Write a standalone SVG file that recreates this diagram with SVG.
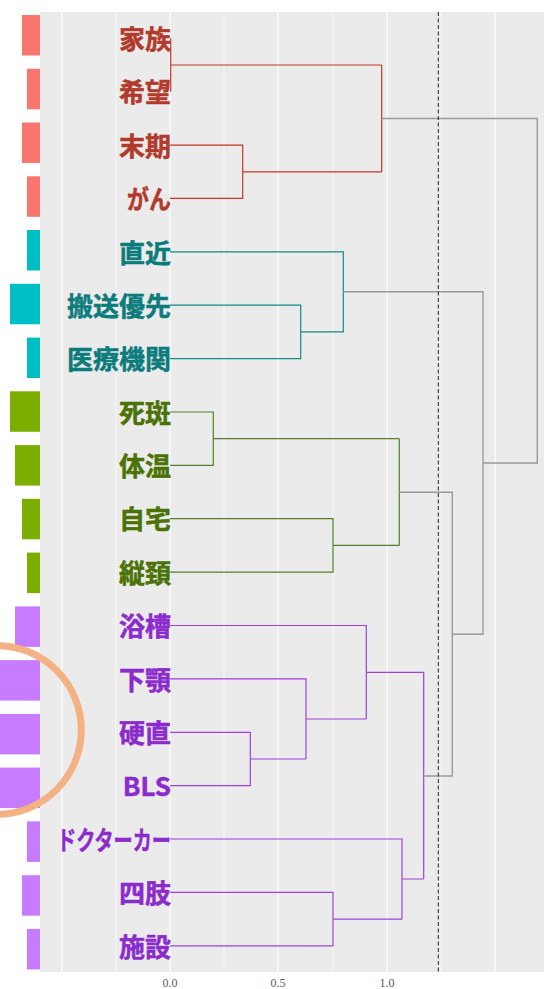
<svg xmlns="http://www.w3.org/2000/svg" width="544" height="989" viewBox="0 0 544 989">
<style>
.lab{font-family:"Noto Sans CJK JP","Noto Sans",sans-serif;font-weight:bold;font-size:26px;text-anchor:end;stroke-width:0.5}
.r{fill:#B23A2C;stroke:#B23A2C}.t{fill:#0B7B7C;stroke:#0B7B7C}.g{fill:#4A7204;stroke:#4A7204}.p{fill:#8B2BCB;stroke:#8B2BCB}
.ax{font-family:"Liberation Serif",serif;font-size:12px;fill:#5a5a5a;text-anchor:middle}
.gmaj{stroke:#fff;stroke-width:1.1}
.gmin{stroke:#fff;stroke-width:0.6}
.e{fill:none;stroke-width:1.2}
.er{stroke:#C0392B}.et{stroke:#138A8A}.eg{stroke:#52802A}.ep{stroke:#A040DD}.ey{stroke:#9a9a9a;stroke-width:1.4}
</style>
<rect width="544" height="989" fill="#fff"/>
<g id="panel">
<rect x="40" y="12" width="504" height="960" fill="#EBEBEB"/>
<line class="gmin" x1="116" y1="12" x2="116" y2="972"/>
<line class="gmin" x1="224" y1="12" x2="224" y2="972"/>
<line class="gmin" x1="333" y1="12" x2="333" y2="972"/>
<line class="gmin" x1="441" y1="12" x2="441" y2="972"/>
<line class="gmaj" x1="62" y1="12" x2="62" y2="972"/>
<line class="gmaj" x1="170" y1="12" x2="170" y2="972"/>
<line class="gmaj" x1="278" y1="12" x2="278" y2="972"/>
<line class="gmaj" x1="387" y1="12" x2="387" y2="972"/>
<line class="gmaj" x1="495" y1="12" x2="495" y2="972"/>
</g>
<g id="axis">
<text class="ax" x="170" y="987">0.0</text>
<text class="ax" x="278" y="987">0.5</text>
<text class="ax" x="387" y="987">1.0</text>
</g>
<g id="bars">
<rect x="22" y="15" width="18" height="40.5" fill="#F8766D"/>
<rect x="27" y="68.8" width="13" height="40.5" fill="#F8766D"/>
<rect x="22" y="122.5" width="18" height="40.5" fill="#F8766D"/>
<rect x="27" y="176.3" width="13" height="40.5" fill="#F8766D"/>
<rect x="27" y="230" width="13" height="40.5" fill="#00BFC4"/>
<rect x="10" y="283.8" width="30" height="40.5" fill="#00BFC4"/>
<rect x="27" y="337.6" width="13" height="40.5" fill="#00BFC4"/>
<rect x="10" y="391.3" width="30" height="40.5" fill="#7CAE00"/>
<rect x="15" y="445.1" width="25" height="40.5" fill="#7CAE00"/>
<rect x="22" y="498.8" width="18" height="40.5" fill="#7CAE00"/>
<rect x="27" y="552.6" width="13" height="40.5" fill="#7CAE00"/>
<rect x="15" y="606.4" width="25" height="40.5" fill="#C77CFF"/>
<rect x="0" y="660.1" width="40" height="40.5" fill="#C77CFF"/>
<rect x="0" y="713.9" width="40" height="40.5" fill="#C77CFF"/>
<rect x="0" y="767.6" width="40" height="40.5" fill="#C77CFF"/>
<rect x="27" y="821.4" width="13" height="40.5" fill="#C77CFF"/>
<rect x="22" y="875.2" width="18" height="40.5" fill="#C77CFF"/>
<rect x="27" y="928.9" width="13" height="40.5" fill="#C77CFF"/>
</g>
<g id="connectors">
<path class="e er" d="M170.7 38.3V91.7M170.7 65H381.7M170 145.1H242.7V198.4H170M242.7 171.8H381.7M381.7 65V171.8"/>
<path class="e et" d="M170 251.8H343.3V331.9H300.7M170 305.2H300.7V358.6H170"/>
<path class="e eg" d="M170 412H213.3V465.3H170M213.3 438.7H399.3M170 518.7H333V572.1H170M333 545.4H399.3M399.3 438.7V545.4"/>
<path class="e ep" d="M170 732.3H250.3V785.6H170M250.3 759H306M170 678.9H306V759M306 719H366.3M170 625.5H366.3V719M366.3 672.3H423.7M170 892.4H333V945.8H170M333 919.1H402M170 839H402V919.1M402 879H423.7M423.7 672.3V879"/>
<path class="e ey" d="M381.7 118.5H537.3V463H483M343.3 291.7H483V634.3H452.3M399.3 492.3H452.3V776H423.7"/>
<line x1="438.3" y1="12" x2="438.3" y2="972" stroke="#222" stroke-width="1" stroke-dasharray="4,2.5"/>
</g>
<g id="labels">
<text id="n0" class="lab r" x="171" y="49">家族</text>
<text id="n1" class="lab r" x="171" y="102.4">希望</text>
<text id="n2" class="lab r" x="171" y="155.8">末期</text>
<text id="n3" class="lab r" x="171" y="209.1" textLength="44" lengthAdjust="spacingAndGlyphs">がん</text>
<text id="n4" class="lab t" x="171" y="262.5">直近</text>
<text id="n5" class="lab t" x="171" y="315.9">搬送優先</text>
<text id="n6" class="lab t" x="171" y="369.3">医療機関</text>
<text id="n7" class="lab g" x="171" y="422.7">死斑</text>
<text id="n8" class="lab g" x="171" y="476">体温</text>
<text id="n9" class="lab g" x="171" y="529.4">自宅</text>
<text id="n10" class="lab g" x="171" y="582.8">縦頚</text>
<text id="n11" class="lab p" x="171" y="636.2">浴槽</text>
<text id="n12" class="lab p" x="171" y="689.6">下顎</text>
<text id="n13" class="lab p" x="171" y="743">硬直</text>
<text id="n14" class="lab p" x="171" y="796.3">BLS</text>
<text id="n15" class="lab p" x="171" y="849.7" textLength="114" lengthAdjust="spacingAndGlyphs">ドクターカー</text>
<text id="n16" class="lab p" x="171" y="903.1">四肢</text>
<text id="n17" class="lab p" x="171" y="956.5">施設</text>
</g>
<circle id="highlight" cx="-3" cy="730" r="84.3" fill="none" stroke="#F4B183" stroke-width="7"/>
</svg>
